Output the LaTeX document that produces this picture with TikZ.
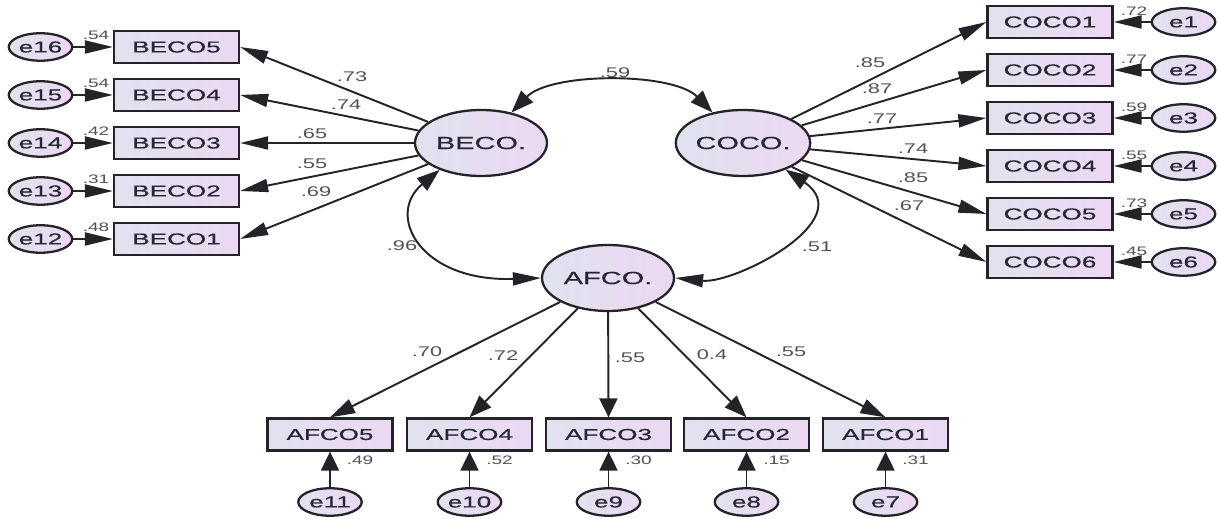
\documentclass[tikz,border=0pt]{standalone}
\usepackage{fontspec}
\setmainfont{Liberation Sans}[FakeStretch=1.65,FakeBold=0.6]
\newfontfamily\labfont{Liberation Sans}[FakeStretch=1.55]
\usetikzlibrary{arrows.meta,shapes.geometric}
\definecolor{fillL}{RGB}{224,226,240}
\definecolor{fillR}{RGB}{236,216,242}
\definecolor{edgec}{RGB}{35,35,40}
\definecolor{txtc}{RGB}{40,40,52}
\definecolor{labc}{RGB}{80,80,88}
\begin{document}
\begin{tikzpicture}[x=0.02cm,y=-0.02cm,
 obs/.style={draw=edgec,line width=1.3pt,left color=fillL,right color=fillR,minimum width=2.5cm,minimum height=0.64cm,inner sep=0pt,font=\fontsize{9}{10}\selectfont,text=txtc},
 lat/.style={ellipse,draw=edgec,line width=1.3pt,left color=fillL,right color=fillR,minimum width=2.64cm,minimum height=1.32cm,inner sep=0pt,font=\fontsize{10}{11}\selectfont,text=txtc},
 err/.style={ellipse,draw=edgec,line width=1.3pt,left color=fillL,right color=fillR,minimum width=1.27cm,minimum height=0.55cm,inner sep=0pt,font=\fontsize{9}{10}\selectfont,text=txtc},
 lab/.style={font=\labfont\fontsize{8}{9}\selectfont,text=labc,inner sep=0pt},
 rlab/.style={font=\labfont\fontsize{7}{8}\selectfont,text=labc,inner sep=0pt},
 harr/.style={draw=edgec,line width=1.1pt,-{Triangle[length=0.56cm,width=0.26cm]}},
 varr/.style={draw=edgec,line width=1.1pt,-{Triangle[length=0.38cm,width=0.36cm]}},
 darrA/.style={draw=edgec,line width=1.1pt,-{Triangle[length=0.5cm,width=0.3cm]}},
 darrB/.style={draw=edgec,line width=1.1pt,-{Triangle[length=0.45cm,width=0.33cm]}},
 cov/.style={draw=edgec,line width=1.1pt},
]
\useasboundingbox (0,0) rectangle (1219,519);

% latent variables
\node[lat] (beco) at (481,143) {BECO.};
\node[lat] (coco) at (743,143) {COCO.};
\node[lat] (afco) at (608,278) {AFCO.};

% left indicators
\node[obs] (b5) at (176.5,47) {BECO5};
\node[obs] (b4) at (176.5,95) {BECO4};
\node[obs] (b3) at (176.5,143) {BECO3};
\node[obs] (b2) at (176.5,191) {BECO2};
\node[obs] (b1) at (176.5,239) {BECO1};
\node[err] (e16) at (40.5,47) {e16};
\node[err] (e15) at (40.5,95) {e15};
\node[err] (e14) at (40.5,143) {e14};
\node[err] (e13) at (40.5,191) {e13};
\node[err] (e12) at (40.5,239) {e12};

% right indicators
\node[obs] (c1) at (1050,22) {COCO1};
\node[obs] (c2) at (1050,70) {COCO2};
\node[obs] (c3) at (1050,118) {COCO3};
\node[obs] (c4) at (1050,166) {COCO4};
\node[obs] (c5) at (1050,214) {COCO5};
\node[obs] (c6) at (1050,262) {COCO6};
\node[err] (e1) at (1183.5,22) {e1};
\node[err] (e2) at (1183.5,70) {e2};
\node[err] (e3) at (1183.5,118) {e3};
\node[err] (e4) at (1183.5,166) {e4};
\node[err] (e5) at (1183.5,214) {e5};
\node[err] (e6) at (1183.5,262) {e6};

% bottom indicators
\node[obs] (a5) at (330,434.5) {AFCO5};
\node[obs] (a4) at (469.5,434.5) {AFCO4};
\node[obs] (a3) at (608.5,434.5) {AFCO3};
\node[obs] (a2) at (746.5,434.5) {AFCO2};
\node[obs] (a1) at (885.5,434.5) {AFCO1};
\node[err] (e11) at (330,502) {e11};
\node[err] (e10) at (469.5,502) {e10};
\node[err] (e9) at (608.5,502) {e9};
\node[err] (e8) at (746.5,502) {e8};
\node[err] (e7) at (885.5,502) {e7};

% loadings
\draw[harr] (beco) -- (b5.east);
\draw[harr] (beco) -- (b4.east);
\draw[harr] (beco) -- (b3.east);
\draw[harr] (beco) -- (b2.east);
\draw[harr] (beco) -- (b1.east);
\draw[harr] (coco) -- (c1.west);
\draw[harr] (coco) -- (c2.west);
\draw[harr] (coco) -- (c3.west);
\draw[harr] (coco) -- (c4.west);
\draw[harr] (coco) -- (c5.west);
\draw[harr] (coco) -- (c6.west);
\draw[darrA] (afco) -- (a5.north);
\draw[darrB] (afco) -- (a4.north);
\draw[varr] (afco) -- (a3.north);
\draw[darrB] (afco) -- (a2.north);
\draw[darrA] (afco) -- (a1.north);

% errors
\draw[harr] (e16) -- (b5);
\draw[harr] (e15) -- (b4);
\draw[harr] (e14) -- (b3);
\draw[harr] (e13) -- (b2);
\draw[harr] (e12) -- (b1);
\draw[harr] (e1) -- (c1);
\draw[harr] (e2) -- (c2);
\draw[harr] (e3) -- (c3);
\draw[harr] (e4) -- (c4);
\draw[harr] (e5) -- (c5);
\draw[harr] (e6) -- (c6);
\draw[varr] (e11) -- (a5);
\draw[varr] (e10) -- (a4);
\draw[varr] (e9) -- (a3);
\draw[varr] (e8) -- (a2);
\draw[varr] (e7) -- (a1);

% covariances
\draw[cov,arrows={Triangle[length=0.45cm,width=0.33cm]-Triangle[length=0.45cm,width=0.33cm]}]
  (beco.45) .. controls (551,72) and (673,72) .. (coco.135);
\draw[cov,arrows={Triangle[length=0.46cm,width=0.32cm]-Triangle[length=0.56cm,width=0.26cm]}]
  (beco.213) .. controls (385,215) and (420,282) .. (afco.west);
\draw[cov,arrows={Triangle[length=0.46cm,width=0.32cm]-Triangle[length=0.56cm,width=0.26cm]}]
  (coco.-32) .. controls (860,220) and (735,284) .. (afco.east);

% covariance labels
\node[lab] (k1) at (615,73) {.59};
\node[lab] (k2) at (402,246) {.96};
\node[lab] (k3) at (817,247) {.51};

% loading labels left
\node[lab] (l5) at (352,77) {.73};
\node[lab] (l4) at (346,105) {.74};
\node[lab] (l3) at (312,134) {.65};
\node[lab] (l2) at (312,164) {.55};
\node[lab] (l1) at (316,192) {.69};
% loading labels right
\node[lab] (m1) at (870,63) {.85};
\node[lab] (m2) at (877,89) {.87};
\node[lab] (m3) at (882,119) {.77};
\node[lab] (m4) at (913,149) {.74};
\node[lab] (m5) at (913,178) {.85};
\node[lab] (m6) at (909,206) {.67};
% loading labels bottom
\node[lab] (n5) at (427,352) {.70};
\node[lab] (n4) at (503,356) {.72};
\node[lab] (n3) at (630,358) {.55};
\node[lab] (n2) at (712,355) {0.4};
\node[lab] (n1) at (791,352) {.55};

% residual labels
\node[rlab] (r16) at (96,35.5) {.54};
\node[rlab] (r15) at (96,83.5) {.54};
\node[rlab] (r14) at (96,131.5) {.42};
\node[rlab] (r13) at (96,179.5) {.31};
\node[rlab] (r12) at (96,227.5) {.48};
\node[rlab] (r1) at (1134,11.5) {.72};
\node[rlab] (r2) at (1134,59.5) {.77};
\node[rlab] (r3) at (1134,107.5) {.59};
\node[rlab] (r4) at (1134,155.5) {.55};
\node[rlab] (r5) at (1134,203.5) {.73};
\node[rlab] (r6) at (1134,251.5) {.45};
\node[rlab] (r11) at (360,460) {.49};
\node[rlab] (r10) at (499.5,460) {.52};
\node[rlab] (r9) at (638.5,460) {.30};
\node[rlab] (r8) at (776.5,460) {.15};
\node[rlab] (r7) at (915.5,460) {.31};
\end{tikzpicture}
\end{document}
